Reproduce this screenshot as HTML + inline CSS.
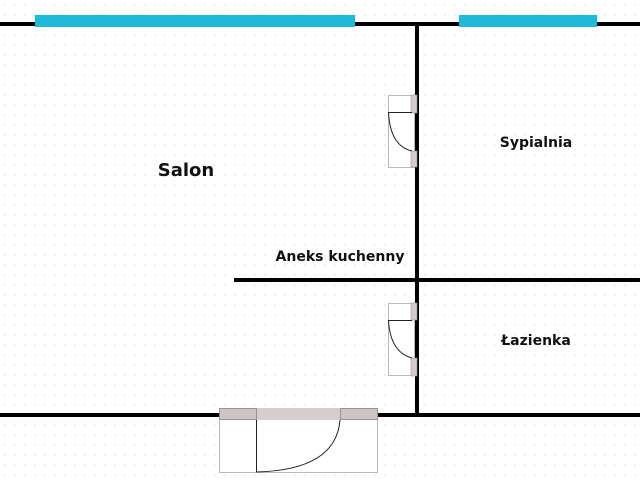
<!DOCTYPE html>
<html><head><meta charset="utf-8"><style>
html,body{margin:0;padding:0;background:#fff}
svg{display:block}
text{font-family:"DejaVu Sans","Liberation Sans",sans-serif;font-weight:bold;fill:#111}
</style></head><body>
<svg width="640" height="480" viewBox="0 0 640 480" xmlns="http://www.w3.org/2000/svg">
<defs><pattern id="d" width="10" height="10" patternUnits="userSpaceOnUse"><circle cx="5" cy="5" r="0.8" fill="#ddd"/></pattern></defs>
<rect width="640" height="480" fill="url(#d)"/>
<!-- walls -->
<rect x="0" y="22" width="640" height="4" fill="#000"/>
<rect x="0" y="413" width="640" height="4" fill="#000"/>
<rect x="415" y="24" width="4" height="391" fill="#000"/>
<rect x="234" y="278" width="406" height="4" fill="#000"/>
<!-- windows -->
<rect x="35" y="15" width="320" height="12" fill="#1cbad8"/>
<rect x="459" y="15" width="138" height="12" fill="#1cbad8"/>
<!-- door 1 -->
<rect x="388.5" y="95.5" width="26" height="72" fill="#fff" stroke="#bbb"/>
<rect x="411" y="95" width="6" height="18" fill="#d4cccc" stroke="#999" stroke-width="0.6"/>
<rect x="411" y="151" width="6" height="16" fill="#d4cccc" stroke="#999" stroke-width="0.6"/>
<line x1="388" y1="112.5" x2="412" y2="112.5" stroke="#222" stroke-width="1"/>
<path d="M388.5 112 Q390 146 412 151" fill="none" stroke="#222"/>
<!-- door 2 -->
<rect x="388.5" y="303.5" width="26" height="72" fill="#fff" stroke="#bbb"/>
<rect x="411" y="303" width="6" height="17" fill="#d4cccc" stroke="#999" stroke-width="0.6"/>
<rect x="411" y="358" width="6" height="18" fill="#d4cccc" stroke="#999" stroke-width="0.6"/>
<line x1="388" y1="320.5" x2="412" y2="320.5" stroke="#222"/>
<path d="M388.5 320 Q390 352 412 358" fill="none" stroke="#222"/>
<!-- front door -->
<rect x="219.5" y="408.5" width="158" height="64" fill="#fff" stroke="#bbb"/>
<rect x="219" y="408" width="159" height="12" fill="#d6cece"/>
<rect x="219.5" y="408.5" width="37" height="11" fill="#cdc4c4" stroke="#888" stroke-width="0.8"/>
<rect x="340.5" y="408.5" width="37" height="11" fill="#cdc4c4" stroke="#888" stroke-width="0.8"/>
<line x1="256.5" y1="420" x2="256.5" y2="472" stroke="#222"/>
<path d="M256.5 472 Q336 470 340 420" fill="none" stroke="#222"/>
<!-- labels -->
<text x="186" y="176" font-size="18" text-anchor="middle">Salon</text>
<text x="536" y="147" font-size="14" text-anchor="middle">Sypialnia</text>
<text x="340" y="261" font-size="14" text-anchor="middle">Aneks kuchenny</text>
<text x="536" y="345" font-size="14" text-anchor="middle">Łazienka</text>
</svg>
</body></html>
